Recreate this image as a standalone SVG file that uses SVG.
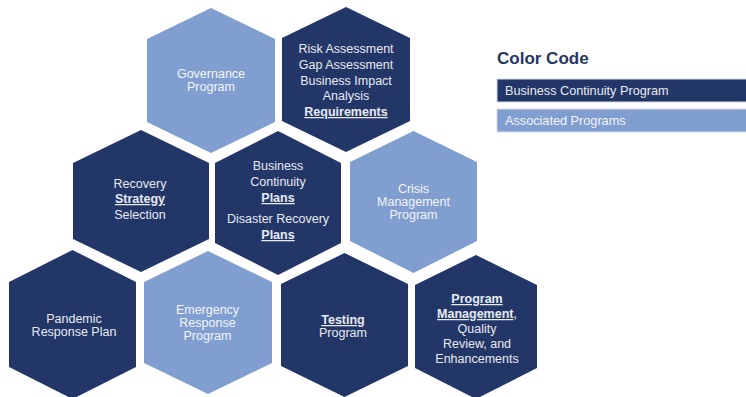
<svg xmlns="http://www.w3.org/2000/svg" width="746" height="397" viewBox="0 0 746 397">
<style>
.dark{fill:#233668}
.light{fill:#809ecf}
text{font-family:"Liberation Sans",Arial,sans-serif;font-size:12.5px;text-anchor:middle}
.td{fill:#e8eaf0}
.tl{fill:#f3f5fa}
.b{font-weight:bold;text-decoration:underline}
.title{font-size:17px;font-weight:bold;fill:#27365f;text-anchor:start}
.leg{font-size:12.7px;text-anchor:start}
</style>
<rect width="746" height="397" fill="#ffffff"/>
<g id="governance">
<polygon class="light" points="211,8 275,39 275,122 211,153 147,122 147,39"/>
<text class="tl" x="211" y="78">Governance</text>
<text class="tl" x="211" y="91">Program</text>
</g>
<g id="risk">
<polygon class="dark" points="346,7 410,38 410,121 346,152 282,121 282,38"/>
<text class="td" x="346" y="53">Risk Assessment</text>
<text class="td" x="346" y="69">Gap Assessment</text>
<text class="td" x="346" y="85">Business Impact</text>
<text class="td" x="346" y="100">Analysis</text>
<text class="td b" x="346" y="116">Requirements</text>
</g>
<g id="recovery">
<polygon class="dark" points="141,130 209,163 209,239 141,272 73,239 73,163"/>
<text class="td" x="140" y="188">Recovery</text>
<text class="td b" x="140" y="203">Strategy</text>
<text class="td" x="140" y="219">Selection</text>
</g>
<g id="continuity">
<polygon class="dark" points="278,131 341,163 341,243 278,275 215,243 215,163"/>
<text class="td" x="278" y="170">Business</text>
<text class="td" x="278" y="186">Continuity</text>
<text class="td b" x="278" y="202">Plans</text>
<text class="td" x="278" y="223">Disaster Recovery</text>
<text class="td b" x="278" y="239">Plans</text>
</g>
<g id="crisis">
<polygon class="light" points="413.5,131 477,162 477,241 413.5,273 350,241 350,162"/>
<text class="tl" x="413.5" y="193">Crisis</text>
<text class="tl" x="413.5" y="206">Management</text>
<text class="tl" x="413.5" y="219">Program</text>
</g>
<g id="pandemic">
<polygon class="dark" points="72.5,250 136,282 136,367 72.5,399 9,367 9,282"/>
<text class="td" x="74" y="323">Pandemic</text>
<text class="td" x="74" y="336">Response Plan</text>
</g>
<g id="emergency">
<polygon class="light" points="208,251 272,282 272,363 208,394 144,363 144,282"/>
<text class="tl" x="207.5" y="314">Emergency</text>
<text class="tl" x="207.5" y="327">Response</text>
<text class="tl" x="207.5" y="340">Program</text>
</g>
<g id="testing">
<polygon class="dark" points="344.5,253 408,284 408,366 344.5,397 281,366 281,284"/>
<text class="td b" x="343" y="324">Testing</text>
<text class="td" x="343" y="337">Program</text>
</g>
<g id="program-management">
<polygon class="dark" points="476,255 537,285 537,368 476,399 415,368 415,285"/>
<text class="td b" x="477" y="303">Program</text>
<text class="td" x="477" y="318"><tspan class="b">Management</tspan>,</text>
<text class="td" x="477" y="333">Quality</text>
<text class="td" x="477" y="348">Review, and</text>
<text class="td" x="477" y="363">Enhancements</text>
</g>
<g id="connectors"></g>
<g id="legend">
<text class="title" x="497" y="64">Color Code</text>
<rect x="497" y="79" width="250" height="23" fill="#233668" stroke="#d4d9e4" stroke-width="1"/>
<text class="leg" x="505" y="95" fill="#e8eaf0">Business Continuity Program</text>
<rect x="497" y="109" width="250" height="23" fill="#809ecf" stroke="#d4d9e4" stroke-width="1"/>
<text class="leg" x="505" y="125" fill="#f3f5fa">Associated Programs</text>
</g>
</svg>
